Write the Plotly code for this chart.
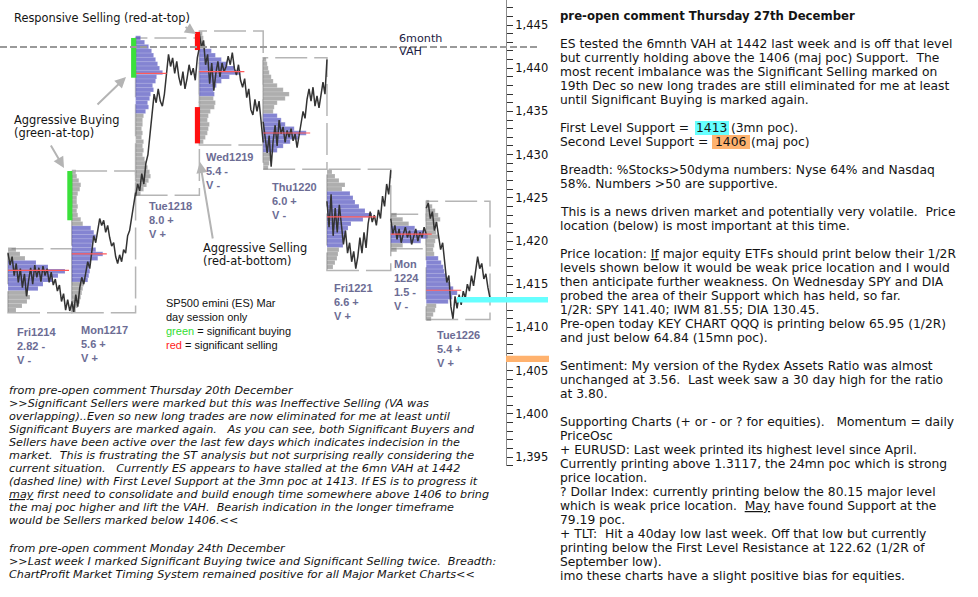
import plotly.graph_objects as go

W, H = 978, 597

# ---------------- data ----------------
DAYS = ["Fri1214", "Mon1217", "Tue1218", "Wed1219", "Thu1220", "Fri1221", "Mon1224", "Tue1226"]
SESSION_BARS = [81, 81, 81, 81, 81, 81, 45, 81]          # 5-minute bars per day session
DAY_HIGH = [1419.1, 1428.1, 1443.5, 1444.3, 1441.2, 1428.3, 1423.1, 1424.6]
DAY_LOW = [1411.7, 1411.7, 1425.3, 1431.1, 1428.3, 1416.6, 1419.1, 1410.9]
POC = [1416.6, 1418.5, 1439.4, 1439.6, 1432.5, 1422.8, 1420.8, 1414.3]
VA_HIGH = [1417.5, 1421.9, 1443.5, 1442.1, 1434.6, 1425.9, 1421.5, 1418.0]
VA_LOW = [1414.5, 1415.3, 1434.9, 1436.6, 1430.3, 1419.2, 1419.8, 1412.8]
RANGE_STAT = ["2.82 -", "5.6 +", "8.0 +", "5.4 -", "6.0 +", "6.6 +", "1.5 -", "5.4 +"]
VOL_STAT = ["V -", "V +", "V +", "V -", "V -", "V +", "V -", "V +"]

# volume profiles, listed from the top price bin downwards (0.5 pt bins)
PROFILE_TOP = [1419.0, 1428.0, 1443.5, 1444.0, 1441.0, 1428.0, 1423.0, 1424.5]
PROF_FRI1214 = [8, 12, 17, 28, 40, 57, 50, 45, 35, 30, 20, 22, 19, 14, 8]
PROF_MON1217 = [4, 5, 7, 9, 8, 6, 5, 5, 6, 5, 6, 9, 11, 19, 22, 24, 21, 20, 24, 31, 26, 19, 17, 18, 17, 16,
                12, 11, 10, 9, 8, 6, 4]
PROF_TUE1218 = [5, 9, 13, 16, 18, 20, 22, 24, 27, 21, 20, 17, 18, 15, 14, 12, 13, 10, 8, 7, 7, 6, 7, 6, 8, 7,
                8, 7, 9, 10, 12, 14, 15, 13, 11, 8, 5]
PROF_WED1219 = [3, 4, 5, 6, 12, 16, 22, 28, 35, 41, 30, 22, 17, 14, 15, 14, 16, 15, 11, 9, 8, 10, 9, 8, 6, 4]
PROF_THU1220 = [3, 4, 5, 6, 8, 10, 14, 20, 26, 22, 14, 11, 10, 14, 18, 22, 31, 43, 35, 27, 20, 14, 8, 7, 6, 5]
PROF_FRI1221 = [5, 8, 12, 18, 15, 23, 26, 28, 32, 38, 45, 36, 24, 21, 19, 17, 17, 16, 12, 11, 10, 8, 6]
PROF_MON1224 = [6, 12, 18, 24, 34, 37, 30, 12, 6]
PROF_TUE1226 = [3, 6, 9, 12, 14, 11, 9, 10, 12, 9, 8, 7, 8, 12, 15, 17, 18, 20, 22, 24, 27, 31, 26, 22, 10,
                9, 7, 5]
PROFILES = [PROF_FRI1214, PROF_MON1217, PROF_TUE1218, PROF_WED1219, PROF_THU1220, PROF_FRI1221,
            PROF_MON1224, PROF_TUE1226]

# intraday price path (sampled) for each session
PX_FRI1214 = [1418.6, 1417.2, 1418.2, 1416.0, 1417.4, 1415.2, 1416.8, 1414.6, 1416.2, 1413.6, 1415.4, 1416.9,
              1415.0, 1417.2, 1415.8, 1416.9, 1415.3, 1417.1, 1416.0, 1416.8, 1415.2, 1416.4, 1414.9, 1415.6,
              1414.2, 1414.9, 1413.0, 1413.9, 1412.0, 1413.2, 1411.9, 1412.8]
PX_MON1217 = [1413.0, 1411.8, 1413.8, 1412.4, 1414.6, 1415.8, 1415.0, 1416.6, 1417.6, 1416.8, 1418.8, 1420.6,
              1419.8, 1421.4, 1422.6, 1421.8, 1422.4, 1421.0, 1421.8, 1420.4, 1419.4, 1419.8, 1418.2, 1417.4,
              1418.4, 1417.6, 1419.0, 1418.6, 1420.6, 1421.2, 1422.8, 1424.0, 1425.6]
PX_TUE1218 = [1425.2, 1426.6, 1425.8, 1427.8, 1426.6, 1429.0, 1430.0, 1432.2, 1434.4, 1437.0, 1436.0, 1437.6,
              1436.2, 1435.6, 1437.0, 1439.8, 1441.6, 1440.2, 1441.2, 1439.4, 1440.8, 1439.0, 1438.0, 1439.6,
              1437.6, 1438.8, 1440.4, 1439.2, 1440.0, 1438.6, 1441.2, 1442.4]
PX_WED1219 = [1444.0, 1442.4, 1443.2, 1440.4, 1441.6, 1438.2, 1440.6, 1437.4, 1439.4, 1440.8, 1439.0, 1440.6,
              1439.6, 1440.2, 1441.4, 1440.4, 1441.8, 1440.0, 1439.2, 1440.4, 1438.6, 1437.8, 1438.8, 1436.6,
              1437.6, 1435.2, 1434.6, 1436.4, 1435.0, 1436.2, 1433.8, 1431.4]
PX_THU1220 = [1433.8, 1432.0, 1430.2, 1432.2, 1428.6, 1431.6, 1433.4, 1431.0, 1434.0, 1432.4, 1433.2, 1431.4,
              1432.8, 1432.0, 1433.0, 1431.6, 1432.4, 1430.8, 1432.0, 1433.6, 1435.0, 1434.2, 1436.4, 1437.6,
              1436.2, 1437.8, 1435.6, 1436.8, 1435.4, 1437.2, 1438.4, 1437.0, 1441.0]
PX_FRI1221 = [1424.6, 1421.6, 1425.4, 1420.6, 1423.8, 1421.0, 1424.2, 1422.2, 1419.6, 1421.2, 1418.6, 1419.8,
              1417.6, 1418.8, 1416.8, 1418.2, 1420.4, 1418.6, 1421.0, 1419.2, 1422.0, 1423.4, 1422.2, 1423.0,
              1421.8, 1423.6, 1422.6, 1425.2, 1424.0, 1426.6, 1425.4, 1428.2]
PX_MON1224 = [1422.6, 1420.8, 1421.8, 1420.2, 1421.4, 1419.8, 1420.8, 1421.6, 1420.4, 1421.2, 1419.6, 1420.6,
              1421.4, 1420.0, 1421.0, 1420.4, 1421.6, 1420.8]
PX_TUE1226 = [1423.8, 1424.4, 1422.6, 1423.4, 1421.2, 1422.2, 1420.6, 1419.0, 1419.8, 1417.0, 1415.2, 1416.0,
              1412.4, 1411.0, 1413.6, 1412.2, 1413.8, 1412.6, 1414.2, 1413.4, 1415.0, 1414.2, 1416.0, 1414.8,
              1416.6, 1418.2, 1416.8, 1417.4, 1415.6, 1416.2, 1414.6, 1413.4]
PRICES = [PX_FRI1214, PX_MON1217, PX_TUE1218, PX_WED1219, PX_THU1220, PX_FRI1221, PX_MON1224, PX_TUE1226]

# significant activity markers
SIG_DAY = ["Mon1217", "Tue1218", "Wed1219", "Wed1219"]
SIG_KIND = ["buy", "buy", "sell", "sell"]
SIG_HIGH = [1428.1, 1443.5, 1444.2, 1435.5]
SIG_LOW = [1422.4, 1438.9, 1442.1, 1431.3]

VAH_6MONTH = 1442.45
SUPPORT_1 = 1413.2
SUPPORT_2 = 1406.35

# ---------------- layout constants ----------------
PX_PER_BAR = 482 / 612
X_LEFT_PX = 8
X_RANGE = [-X_LEFT_PX / PX_PER_BAR, (W - X_LEFT_PX) / PX_PER_BAR]
PX_PER_PT = 8.64
AXIS_BOTTOM_PX = 466
Y_RANGE = [1445 - (AXIS_BOTTOM_PX - 25) / PX_PER_PT, 1445 + 25 / PX_PER_PT]
BLUE = "rgba(50,50,180,0.6)"
GREY = "rgba(120,120,120,0.6)"
LABEL_COL = "#6c6c94"
TXT = "#141414"

starts = []
acc = 0
for n in SESSION_BARS:
    starts.append(acc)
    acc += n

fig = go.Figure()

# price paths
for i, pr in enumerate(PRICES):
    n = len(pr)
    xs = [starts[i] + k * SESSION_BARS[i] / (n - 1) for k in range(n)]
    fig.add_trace(go.Scatter(x=xs, y=pr, mode="lines", line=dict(color="#333333", width=1.5),
                             hoverinfo="skip"))

# volume profiles (drawn over the price, translucent)
for i, vols in enumerate(PROFILES):
    ys = [PROFILE_TOP[i] - 0.5 * k for k in range(len(vols))]
    cols = [BLUE if VA_LOW[i] - 0.01 <= y <= VA_HIGH[i] + 0.01 else GREY for y in ys]
    fig.add_trace(go.Bar(orientation="h", y=ys, x=[v / PX_PER_BAR for v in vols],
                         base=[starts[i]] * len(vols), width=0.5,
                         marker=dict(color=cols, line=dict(width=0.5, color="rgba(255,255,255,0.25)")),
                         hoverinfo="skip"))

shapes = []
# day boxes
for i in range(len(DAYS)):
    shapes.append(dict(type="rect", xref="x", yref="y", x0=starts[i], x1=starts[i] + SESSION_BARS[i],
                       y0=DAY_LOW[i], y1=DAY_HIGH[i], layer="below",
                       line=dict(color="#b5b5b5", width=1.5, dash="32px,7px")))
# POC lines
for i in range(len(DAYS)):
    shapes.append(dict(type="line", xref="x", yref="y", x0=starts[i],
                       x1=starts[i] + (max(PROFILES[i]) + 4) / PX_PER_BAR, y0=POC[i], y1=POC[i],
                       line=dict(color="#ff5a5a", width=1.2)))
# significant buying / selling markers
for d, kind, hi, lo in zip(SIG_DAY, SIG_KIND, SIG_HIGH, SIG_LOW):
    s = starts[DAYS.index(d)]
    shapes.append(dict(type="rect", xref="x", yref="y", x0=s - 4.5 / PX_PER_BAR, x1=s + 0.6 / PX_PER_BAR,
                       y0=lo, y1=hi, line=dict(width=0),
                       fillcolor="#3be03b" if kind == "buy" else "#ff1010"))
# 6 month VAH dashed line
shapes.append(dict(type="line", xref="paper", yref="y", x0=0, x1=540 / W, y0=VAH_6MONTH, y1=VAH_6MONTH,
                   line=dict(color="#9a9a9a", width=2, dash="7px,3px")))
# support bands
shapes.append(dict(type="rect", xref="paper", yref="y", x0=457 / W, x1=548 / W,
                   y0=SUPPORT_1 - 0.33, y1=SUPPORT_1 + 0.33, fillcolor="#66ffff", line=dict(width=0)))
shapes.append(dict(type="rect", xref="paper", yref="y", x0=506 / W, x1=549 / W,
                   y0=SUPPORT_2 - 0.36, y1=SUPPORT_2 + 0.36, fillcolor="#ffb26e", line=dict(width=0)))
# text highlights
shapes.append(dict(type="rect", xref="paper", yref="paper", x0=695 / W, x1=729 / W,
                   y0=1 - 135 / H, y1=1 - 121 / H, fillcolor="#66ffff", line=dict(width=0), layer="below"))
shapes.append(dict(type="rect", xref="paper", yref="paper", x0=712 / W, x1=750 / W,
                   y0=1 - 149 / H, y1=1 - 135 / H, fillcolor="#ffb26e", line=dict(width=0), layer="below"))

ann = []


def T(x, y, text, size, family="DejaVu Sans", color=TXT):
    ann.append(dict(x=(x - 1) / W, y=1 - y / H, xref="paper", yref="paper", text=text, showarrow=False,
                    xanchor="left", yanchor="middle", borderpad=0, borderwidth=0,
                    font=dict(family=family, size=size, color=color)))


def arrow(tx, ty, hx, hy):
    ann.append(dict(x=hx / W, y=1 - hy / H, xref="paper", yref="paper", text="", showarrow=True,
                    ax=tx - hx, ay=ty - hy, arrowcolor="#b4b4b4", arrowwidth=2, arrowhead=2,
                    arrowsize=1.1, standoff=0))


def sp(s):
    return s.replace("  ", " \u00a0")


# chart notes
T(15, 18, "Responsive Selling (red-at-top)", 11.4)
T(15, 120, "Aggressive Buying", 11.4)
T(15, 133, "(green-at-top)", 11.4)
T(204, 248, "Aggressive Selling", 11.4)
T(204, 261, "(red-at-bottom)", 11.4)
T(400, 39, "6month", 11.2, color="#1c1c44")
T(400, 52, "VAH", 11.2, color="#1c1c44")
arrow(184, 26, 196, 34)
arrow(96, 106, 126, 77)
arrow(50, 144, 64, 168)
arrow(213, 240, 200, 162)

# day labels
LABEL_POS = [(18, 332), (82, 330), (150, 206), (207, 157), (273, 187), (335, 288), (395, 264), (438, 335)]
for i, d in enumerate(DAYS):
    lines = [d, RANGE_STAT[i], VOL_STAT[i]]
    if d == "Mon1224":
        lines = ["Mon", "1224", RANGE_STAT[i], VOL_STAT[i]]
    x, y = LABEL_POS[i]
    for k, ln in enumerate(lines):
        T(x, y + 14 * k, "<b>" + ln + "</b>", 11, family="Liberation Sans", color=LABEL_COL)

# legend text
LEG = ["SP500 emini (ES) Mar", "day session only",
       "<span style='color:#33dd33'>green</span> = significant buying",
       "<span style='color:#ff1a1a'>red</span> = significant selling"]
for k, ln in enumerate(LEG):
    T(167, 303 + 14 * k, ln, 11, family="Liberation Sans", color="#111111")

# left commentary (italic)
LEFT_A = [
    "from pre-open comment Thursday 20th December",
    "&gt;&gt;Significant Sellers were marked but this was Ineffective Selling (VA was",
    "overlapping)..Even so new long trades are now eliminated for me at least until",
    "Significant Buyers are marked again.   As you can see, both Significant Buyers and",
    "Sellers have been active over the last few days which indicates indecision in the",
    "market.  This is frustrating the ST analysis but not surprising really considering the",
    "current situation.   Currently ES appears to have stalled at the 6mn VAH at 1442",
    "(dashed line) with First Level Support at the 3mn poc at 1413. If ES is to progress it",
    "<u>may</u> first need to consolidate and build enough time somewhere above 1406 to bring",
    "the maj poc higher and lift the VAH.  Bearish indication in the longer timeframe",
    "would be Sellers marked below 1406.&lt;&lt;",
]
LEFT_B = [
    "from pre-open comment Monday 24th December",
    "&gt;&gt;Last week I marked Significant Buying twice and Significant Selling twice.  Breadth:",
    "ChartProfit Market Timing System remained positive for all Major Market Charts&lt;&lt;",
]
for k, ln in enumerate(LEFT_A):
    T(10, 390 + 13 * k, "<i>" + sp(ln) + "</i>", 11.2)
for k, ln in enumerate(LEFT_B):
    T(10, 548 + 13 * k, "<i>" + sp(ln) + "</i>", 11.2)

# right commentary
T(561, 16, "<b>pre-open comment Thursday 27th December</b>", 11.7)
RIGHT = [
    "ES tested the 6mnth VAH at 1442 last week and is off that level",
    "but currently holding above the 1406 (maj poc) Support.  The",
    "most recent imbalance was the Significant Selling marked on",
    "19th Dec so new long trades are still eliminated for me at least",
    "until Significant Buying is marked again.",
    "",
    None,
    None,
    "",
    "Breadth: %Stocks&gt;50dyma numbers: Nyse 64% and Nasdaq",
    "58%. Numbers &gt;50 are supportive.",
    "",
    "This is a news driven market and potentially very volatile.  Price",
    "location (below) is most important at this time.",
    "",
    "Price location: <u>If</u> major equity ETFs should print below their 1/2R",
    "levels shown below it would be weak price location and I would",
    "then anticipate further weakness. On Wednesday SPY and DIA",
    "probed the area of their Support which has held, so far.",
    "1/2R: SPY 141.40; IWM 81.55; DIA 130.45.",
    "Pre-open today KEY CHART QQQ is printing below 65.95 (1/2R)",
    "and just below 64.84 (15mn poc).",
    "",
    "Sentiment: My version of the Rydex Assets Ratio was almost",
    "unchanged at 3.56.  Last week saw a 30 day high for the ratio",
    "at 3.80.",
    "",
    "Supporting Charts (+ or - or ? for equities).   Momentum = daily",
    "PriceOsc",
    "+ EURUSD: Last week printed its highest level since April.",
    "Currently printing above 1.3117, the 24mn poc which is strong",
    "price location.",
    "? Dollar Index: currently printing below the 80.15 major level",
    "which is weak price location.  <u>May</u> have found Support at the",
    "79.19 poc.",
    "+ TLT:  Hit a 40day low last week. Off that low but currently",
    "printing below the First Level Resistance at 122.62 (1/2R of",
    "September low).",
    "imo these charts have a slight positive bias for equities.",
]
RS = 12.3
for k, ln in enumerate(RIGHT):
    if ln:
        T(561, 44 + 14 * k, sp(ln), RS)
# highlighted support lines
T(561, 128, "First Level Support =", RS)
T(697, 128, "1413", RS)
T(732, 128, "(3mn poc).", RS)
T(561, 142, "Second Level Support =", RS)
T(716, 142, "1406", RS)
T(752, 142, "(maj poc)", RS)

fig.update_layout(
    width=W, height=H, margin=dict(l=0, r=0, t=0, b=0),
    plot_bgcolor="white", paper_bgcolor="white", showlegend=False, barmode="overlay",
    xaxis=dict(visible=False, range=X_RANGE, domain=[0, 1], fixedrange=True),
    yaxis=dict(range=Y_RANGE, domain=[1 - AXIS_BOTTOM_PX / H, 1], anchor="free", position=506 / W,
               side="right", showline=True, linecolor="#8c8c8c", linewidth=1,
               ticks="outside", ticklen=6, tickcolor="#333333", tickwidth=1,
               tick0=1395, dtick=5, tickformat=",", showgrid=False, zeroline=False,
               tickfont=dict(family="DejaVu Sans", size=11.5, color="#111111"),
               minor=dict(dtick=1, ticks="outside", ticklen=6, tickcolor="#333333", tickwidth=1,
                          showgrid=False),
               fixedrange=True),
    shapes=shapes, annotations=ann,
)

fig.write_html("out.html", config={"displayModeBar": False})
